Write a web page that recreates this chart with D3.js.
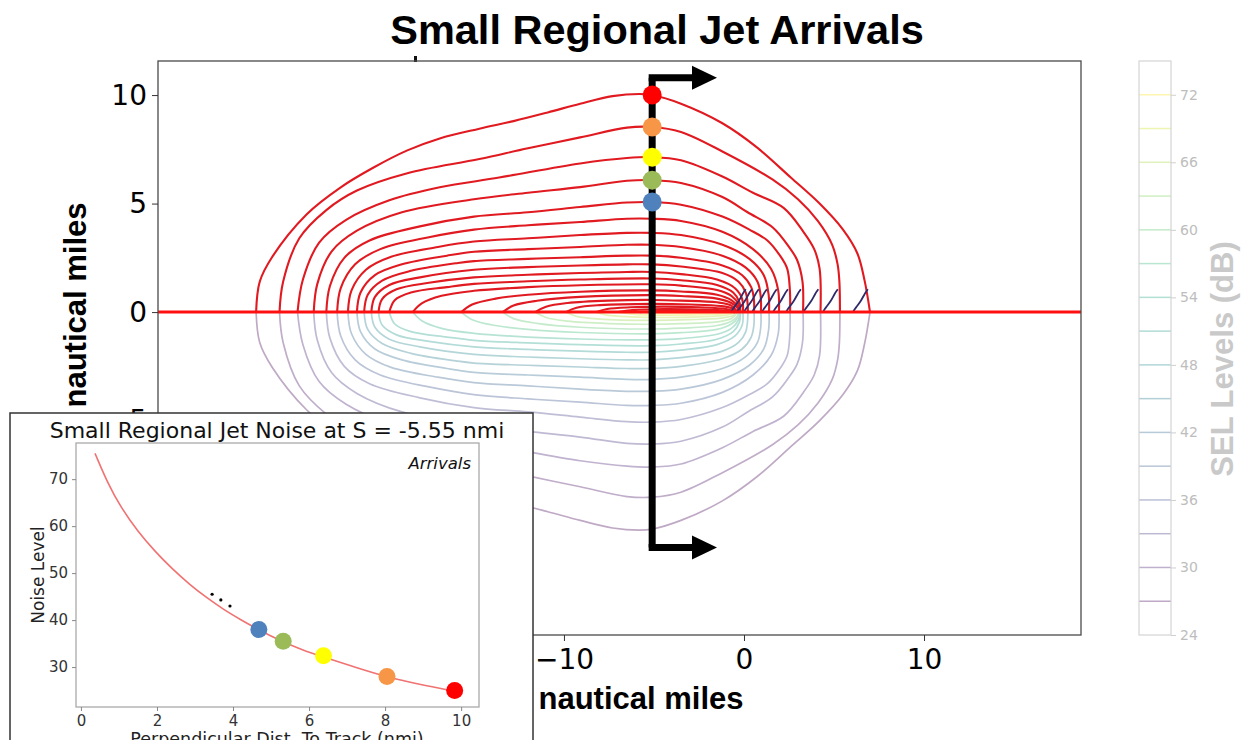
<!DOCTYPE html>
<html>
<head>
<meta charset="utf-8">
<script src="https://cdn.jsdelivr.net/npm/d3@7"></script>
<style>
  body { margin: 0; background: #fff; }
  svg { display: block; }
</style>
</head>
<body>
<svg id="chart" width="1247" height="740"></svg>
<script>
// SEL contour levels (dB), outermost contour first
const levels = [25, 27.5, 30, 32.5, 35, 37.5, 40, 42.5, 45, 47.5, 50, 52.5, 55, 57.5, 60, 62.5, 65, 67.5, 70, 72.5];

// half contours (x along track, y distance from track), in nautical miles
const contours = [
  [[-27.1,0],[-26.9,1.4],[-26.2,2.55],[-24.3,4.5],[-22.4,5.75],[-20.6,6.65],[-18.7,7.45],[-16.9,8.0],[-14.7,8.45],[-12.8,8.8],[-10.9,9.2],[-9.1,9.6],[-7.3,9.95],[-5.8,10.05],[-5.1,10.0],[-3.5,9.6],[-1.2,8.7],[0.7,7.6],[2.6,6.2],[4.2,5.0],[5.5,3.8],[6.3,2.7],[6.7,1.45],[7.0,0]],
  [[-25.8,0],[-25.6,1.4],[-24.7,3.4],[-23.2,4.7],[-21.5,5.6],[-18.7,6.4],[-14.7,7.05],[-12,7.55],[-9.1,8.05],[-6.5,8.5],[-5.1,8.53],[-3.5,8.3],[-1.2,7.4],[1.6,6.1],[3.0,5.2],[4.1,4.2],[4.9,3.1],[5.2,2.2],[5.3,1.4],[5.33,0]],
  [[-24.8,0],[-24.5,1.5],[-23.6,3.2],[-22.1,4.25],[-19.7,5.15],[-16.9,5.75],[-13.6,6.2],[-9.1,6.85],[-6.5,7.1],[-5.1,7.14],[-3.5,7.0],[-1.2,6.25],[0.5,5.5],[2.2,4.8],[3.3,3.7],[3.9,2.9],[4.2,2.0],[4.25,0]],
  [[-23.9,0],[-23.7,1.3],[-22.9,2.8],[-21.5,3.75],[-19,4.6],[-15,5.2],[-12,5.5],[-9.1,5.76],[-6.5,6.05],[-5.1,6.08],[-3.5,5.95],[-1.2,5.3],[0.2,4.6],[1.6,3.9],[2.5,3.0],[2.95,2.4],[3.25,1.4],[3.28,0]],
  [[-23.2,0],[-23.0,1.2],[-22.2,2.5],[-20.8,3.3],[-18,3.95],[-15,4.4],[-12,4.6],[-9.1,4.84],[-6.5,5.05],[-5.1,5.07],[-3.5,4.95],[-1.2,4.4],[0.3,3.8],[1.3,3.3],[2.0,2.6],[2.4,2.0],[2.55,1.0],[2.56,0]],
  [[-22.6,0],[-22.4,1.1],[-21.6,2.2],[-20.2,2.9],[-17.5,3.45],[-15,3.8],[-12,4.0],[-9.1,4.15],[-6.5,4.3],[-5.1,4.3],[-3.5,4.2],[-1.2,3.7],[0.5,2.9],[1.5,2.0],[1.9,1.0],[1.94,0]],
  [[-22.0,0],[-21.8,1.0],[-21.0,1.95],[-19.6,2.55],[-17,3.0],[-15,3.25],[-12,3.4],[-9.1,3.55],[-6.5,3.65],[-5.1,3.65],[-3.5,3.55],[-1.2,3.1],[0.3,2.45],[1.1,1.7],[1.37,0.8],[1.39,0]],
  [[-21.5,0],[-21.3,0.9],[-20.5,1.7],[-19,2.2],[-16.5,2.6],[-15,2.78],[-12,2.9],[-9.1,3.0],[-6.5,3.1],[-5.1,3.1],[-3.5,3.0],[-1.2,2.6],[0.1,2.05],[0.75,1.4],[0.93,0.7],[0.94,0]],
  [[-21.1,0],[-20.9,0.8],[-20.1,1.45],[-18.5,1.9],[-16,2.25],[-15,2.35],[-12,2.45],[-9.1,2.53],[-6.5,2.6],[-5.1,2.6],[-3.5,2.5],[-1.2,2.15],[-0.1,1.7],[0.4,1.15],[0.55,0.6],[0.56,0]],
  [[-20.7,0],[-20.5,0.7],[-19.7,1.25],[-18,1.6],[-15,1.95],[-12,2.07],[-9.1,2.15],[-6.5,2.2],[-5.1,2.2],[-3.5,2.1],[-1.2,1.8],[-0.3,1.4],[0.1,0.9],[0.22,0]],
  [[-20.3,0],[-20.1,0.6],[-19.3,1.05],[-17.5,1.35],[-15,1.6],[-12,1.72],[-9.1,1.8],[-6.5,1.85],[-5.1,1.85],[-3.5,1.75],[-1.5,1.5],[-0.5,1.1],[-0.1,0.6],[-0.06,0]],
  [[-19.7,0],[-19.4,0.55],[-18.5,0.9],[-16.5,1.15],[-15,1.3],[-12,1.42],[-9.1,1.5],[-5.1,1.55],[-3.5,1.47],[-1.5,1.25],[-0.6,0.9],[-0.25,0.45],[-0.2,0]],
  [[-18.4,0],[-17.9,0.4],[-16.8,0.75],[-15,0.98],[-12,1.15],[-9.1,1.24],[-5.1,1.28],[-3.5,1.22],[-1.5,1.02],[-0.7,0.75],[-0.3,0.35],[-0.25,0]],
  [[-15.7,0],[-15.1,0.35],[-13.8,0.62],[-12,0.8],[-9.1,0.94],[-5.1,1.0],[-3.5,0.95],[-1.5,0.8],[-0.7,0.55],[-0.35,0.25],[-0.3,0]],
  [[-13.4,0],[-12.8,0.3],[-11.5,0.52],[-9.1,0.7],[-5.1,0.78],[-3.5,0.74],[-1.5,0.62],[-0.7,0.42],[-0.35,0.18],[-0.32,0]],
  [[-11.6,0],[-11.0,0.25],[-9.8,0.42],[-7.5,0.53],[-5.1,0.56],[-3.5,0.53],[-1.5,0.45],[-0.7,0.3],[-0.35,0]],
  [[-9.9,0],[-9.3,0.2],[-8.0,0.32],[-5.1,0.38],[-3.0,0.35],[-1.3,0.28],[-0.6,0.16],[-0.38,0]],
  [[-8.2,0],[-7.6,0.14],[-6.3,0.22],[-4.5,0.25],[-2.5,0.22],[-1.0,0.14],[-0.4,0]],
  [[-7.0,0],[-6.2,0.09],[-4.5,0.14],[-2.5,0.12],[-1.0,0.07],[-0.42,0]],
  [[-5.8,0],[-4.8,0.05],[-3.0,0.07],[-1.5,0.04],[-0.5,0]]
];

const xTicks = [-30, -20, -10, 0, 10];
const yTicks = [-10, -5, 0, 5, 10];
const barLines = [27, 30, 33, 36, 39, 42, 45, 48, 51, 54, 57, 60, 63, 66, 69, 72];
const barTicks = [24, 30, 36, 42, 48, 54, 60, 66, 72];

// the cut across the track and the points marked on it
const cutX = -5.1;
const cutSpan = [10.8, -10.85];
const arrowTip = -1.5;
const markY = [10.0, 8.53, 7.14, 6.08, 5.07];
const markColors = ['#ff0000', '#f79646', '#ffff00', '#9bbb59', '#4f81bd'];

// inset: noise against distance at the cut
const distNmi = [0.37, 0.7, 1.05, 1.5, 1.95, 2.4, 2.87, 3.3, 3.76, 4.2, 4.68, 5.3, 5.8, 6.35, 7.2, 8.03, 8.9, 9.8];
const noiseDb = [75.5, 69.2, 64.0, 58.8, 54.6, 50.9, 47.5, 44.8, 42.2, 40.1, 37.9, 35.4, 33.7, 32.2, 30.0, 27.9, 26.3, 24.9];
const markDist = [9.83, 8.05, 6.38, 5.32, 4.68];
const markNoise = [25.0, 28.0, 32.4, 35.5, 38.0];
const moreDist = [3.45, 3.68, 3.92];
const moreNoise = [45.5, 44.3, 43.0];
const insetXTicks = [0, 2, 4, 6, 8, 10];
const insetYTicks = [30, 40, 50, 60, 70];

const svg = d3.select('#chart');

const x = d3.scaleLinear().domain([-32.55, 18.72]).range([158, 1081]);
const y = d3.scaleLinear().domain([-14.88, 11.57]).range([635, 61]);

const tLevel = d3.scaleLinear().domain([26, 72.5]).range([0, 1]).clamp(true);
function faded(level, a) {
  const c = d3.rgb(d3.interpolateViridis(tLevel(level)));
  return d3.rgb(255 + (c.r - 255) * a, 255 + (c.g - 255) * a, 255 + (c.b - 255) * a).formatHex();
}

svg.append('defs').append('clipPath').attr('id', 'plotClip')
  .append('rect').attr('x', 158).attr('y', 61).attr('width', 923).attr('height', 574);

// title
svg.append('text')
  .attr('x', 657).attr('y', 44)
  .attr('text-anchor', 'middle')
  .style('font-family', 'Liberation Sans, Arial, sans-serif')
  .style('font-weight', 'bold').style('font-size', '41.5px')
  .text('Small Regional Jet Arrivals');

svg.append('rect').attr('x', 414).attr('y', 56).attr('width', 3).attr('height', 6).attr('fill', '#111');

const plot = svg.append('g').attr('clip-path', 'url(#plotClip)');

const upper = d3.line().x(d => x(d[0])).y(d => y(d[1])).curve(d3.curveCatmullRom.alpha(0.5));
const lower = d3.line().x(d => x(d[0])).y(d => y(-d[1])).curve(d3.curveCatmullRom.alpha(0.5));

plot.selectAll('path.low').data(contours).join('path')
  .attr('class', 'low')
  .attr('d', lower)
  .attr('fill', 'none')
  .attr('stroke', (d, i) => faded(levels[i], 0.34))
  .attr('stroke-width', 1.7);

plot.selectAll('path.up').data(contours).join('path')
  .attr('class', 'up')
  .attr('d', upper)
  .attr('fill', 'none')
  .attr('stroke', '#e01a20')
  .attr('stroke-width', 2.1);

// dark bits where the contours meet the track on the right
const ends = contours.slice(0, 10).map(c => c[c.length - 1][0]);
const wiggle = d3.line().x(d => x(d[0])).y(d => y(d[1])).curve(d3.curveBasis);
plot.selectAll('path.wig').data(ends).join('path')
  .attr('class', 'wig')
  .attr('d', e => wiggle([[e - 0.95, 0], [e - 0.8, 0.2], [e - 0.5, 0.5], [e - 0.3, 0.85], [e - 0.12, 1.05]]))
  .attr('fill', 'none')
  .attr('stroke', '#2f2a6a')
  .attr('stroke-width', 1.8);

// flight track
plot.append('line')
  .attr('x1', x.range()[0]).attr('x2', x.range()[1])
  .attr('y1', y(0)).attr('y2', y(0))
  .attr('stroke', '#ff1010').attr('stroke-width', 3);

// the cut with its arrows
const cx = x(cutX);
const cut = svg.append('g');
cut.append('line')
  .attr('x1', cx).attr('x2', cx)
  .attr('y1', y(cutSpan[0])).attr('y2', y(cutSpan[1]))
  .attr('stroke', '#000').attr('stroke-width', 7);
cutSpan.forEach(v => {
  const yy = y(v);
  const headStart = x(arrowTip) - 25;
  cut.append('line')
    .attr('x1', cx - 3.5).attr('x2', headStart + 1)
    .attr('y1', yy).attr('y2', yy)
    .attr('stroke', '#000').attr('stroke-width', 7);
  cut.append('path')
    .attr('d', `M${headStart},${yy - 12}L${x(arrowTip)},${yy}L${headStart},${yy + 12}Z`)
    .attr('fill', '#000');
});

cut.selectAll('circle').data(markY).join('circle')
  .attr('cx', cx).attr('cy', d => y(d))
  .attr('r', 9.5)
  .attr('fill', (d, i) => markColors[i]);

// frame and axes
svg.append('rect')
  .attr('x', 158).attr('y', 61).attr('width', 923).attr('height', 574)
  .attr('fill', 'none').attr('stroke', '#4a4a4a').attr('stroke-width', 1.3);

const xAxis = svg.append('g').attr('transform', 'translate(0,635)')
  .call(d3.axisBottom(x).tickValues(xTicks).tickSize(6).tickPadding(8));
const yAxis = svg.append('g').attr('transform', 'translate(158,0)')
  .call(d3.axisLeft(y).tickValues(yTicks).tickSize(6).tickPadding(5));
[xAxis, yAxis].forEach(a => {
  a.select('.domain').remove();
  a.selectAll('line').attr('stroke', '#333');
  a.selectAll('text').attr('fill', '#000')
    .style('font-family', 'DejaVu Sans, sans-serif').style('font-size', '28px');
});

svg.append('text')
  .attr('x', 641).attr('y', 709)
  .attr('text-anchor', 'middle')
  .style('font-family', 'Liberation Sans, Arial, sans-serif')
  .style('font-weight', 'bold').style('font-size', '31px')
  .text('nautical miles');

svg.append('text')
  .attr('transform', 'translate(86,305) rotate(-90)')
  .attr('text-anchor', 'middle')
  .style('font-family', 'Liberation Sans, Arial, sans-serif')
  .style('font-weight', 'bold').style('font-size', '31px')
  .text('nautical miles');

// colour bar
const cb = d3.scaleLinear().domain([24, 75]).range([635, 61]);
const bar = svg.append('g');
bar.selectAll('line.lv').data(barLines).join('line')
  .attr('class', 'lv')
  .attr('x1', 1139).attr('x2', 1171)
  .attr('y1', d => cb(d)).attr('y2', d => cb(d))
  .attr('stroke', d => faded(d, 0.35)).attr('stroke-width', 1.5);
bar.append('rect')
  .attr('x', 1139).attr('y', 61).attr('width', 32).attr('height', 574)
  .attr('fill', 'none').attr('stroke', '#d4d4d4').attr('stroke-width', 1.2);
const cbAxis = bar.append('g').attr('transform', 'translate(1171,0)')
  .call(d3.axisRight(cb).tickValues(barTicks).tickSize(5).tickPadding(4));
cbAxis.select('.domain').remove();
cbAxis.selectAll('line').attr('stroke', '#cfcfcf');
cbAxis.selectAll('text').attr('fill', '#bdbdbd')
  .style('font-family', 'DejaVu Sans, sans-serif').style('font-size', '14px');
bar.append('text')
  .attr('transform', 'translate(1233,359) rotate(-90)')
  .attr('text-anchor', 'middle')
  .attr('fill', '#c9c9c9')
  .style('font-family', 'Liberation Sans, Arial, sans-serif')
  .style('font-weight', 'bold').style('font-size', '31px')
  .text('SEL Levels (dB)');

// inset
const inset = svg.append('g');
inset.append('rect')
  .attr('x', 10).attr('y', 413).attr('width', 523).attr('height', 340)
  .attr('fill', '#fff').attr('stroke', '#333').attr('stroke-width', 1.5);

const ix = d3.scaleLinear().domain([-0.13, 10.47]).range([76, 479]);
const iy = d3.scaleLinear().domain([21.5, 77.7]).range([707, 443]);

inset.append('text')
  .attr('x', 277).attr('y', 438)
  .attr('text-anchor', 'middle')
  .attr('fill', '#111')
  .style('font-family', 'DejaVu Sans, sans-serif').style('font-size', '22px')
  .text('Small Regional Jet Noise at S = -5.55 nmi');

inset.append('rect')
  .attr('x', 76).attr('y', 443).attr('width', 403).attr('height', 264)
  .attr('fill', 'none').attr('stroke', '#aaa').attr('stroke-width', 1.3);

const curve = d3.line().x((d, i) => ix(distNmi[i])).y(d => iy(d)).curve(d3.curveBasis);
inset.append('path')
  .attr('d', curve(noiseDb))
  .attr('fill', 'none').attr('stroke', '#f07272').attr('stroke-width', 1.6);

inset.selectAll('circle.more').data(moreDist).join('circle')
  .attr('class', 'more')
  .attr('cx', d => ix(d)).attr('cy', (d, i) => iy(moreNoise[i]))
  .attr('r', 1.6).attr('fill', '#000');

inset.selectAll('circle.mk').data(markDist).join('circle')
  .attr('class', 'mk')
  .attr('cx', d => ix(d)).attr('cy', (d, i) => iy(markNoise[i]))
  .attr('r', 8.5)
  .attr('fill', (d, i) => markColors[i]);

inset.append('text')
  .attr('x', 471).attr('y', 469)
  .attr('text-anchor', 'end')
  .attr('fill', '#111')
  .style('font-family', 'DejaVu Sans, sans-serif').style('font-style', 'italic').style('font-size', '16.5px')
  .text('Arrivals');

const ixAxis = inset.append('g').attr('transform', 'translate(0,707)')
  .call(d3.axisBottom(ix).tickValues(insetXTicks).tickSize(4).tickPadding(4));
const iyAxis = inset.append('g').attr('transform', 'translate(76,0)')
  .call(d3.axisLeft(iy).tickValues(insetYTicks).tickSize(4).tickPadding(4));
[ixAxis, iyAxis].forEach(a => {
  a.select('.domain').remove();
  a.selectAll('line').attr('stroke', '#888');
  a.selectAll('text').attr('fill', '#333')
    .style('font-family', 'DejaVu Sans, sans-serif').style('font-size', '15px');
});

inset.append('text')
  .attr('x', 277).attr('y', 745)
  .attr('text-anchor', 'middle')
  .attr('fill', '#222')
  .style('font-family', 'DejaVu Sans, sans-serif').style('font-size', '17.5px')
  .text('Perpendicular Dist. To Track (nmi)');

inset.append('text')
  .attr('transform', 'translate(44,575) rotate(-90)')
  .attr('text-anchor', 'middle')
  .attr('fill', '#222')
  .style('font-family', 'DejaVu Sans, sans-serif').style('font-size', '17px')
  .text('Noise Level');
</script>
</body>
</html>
